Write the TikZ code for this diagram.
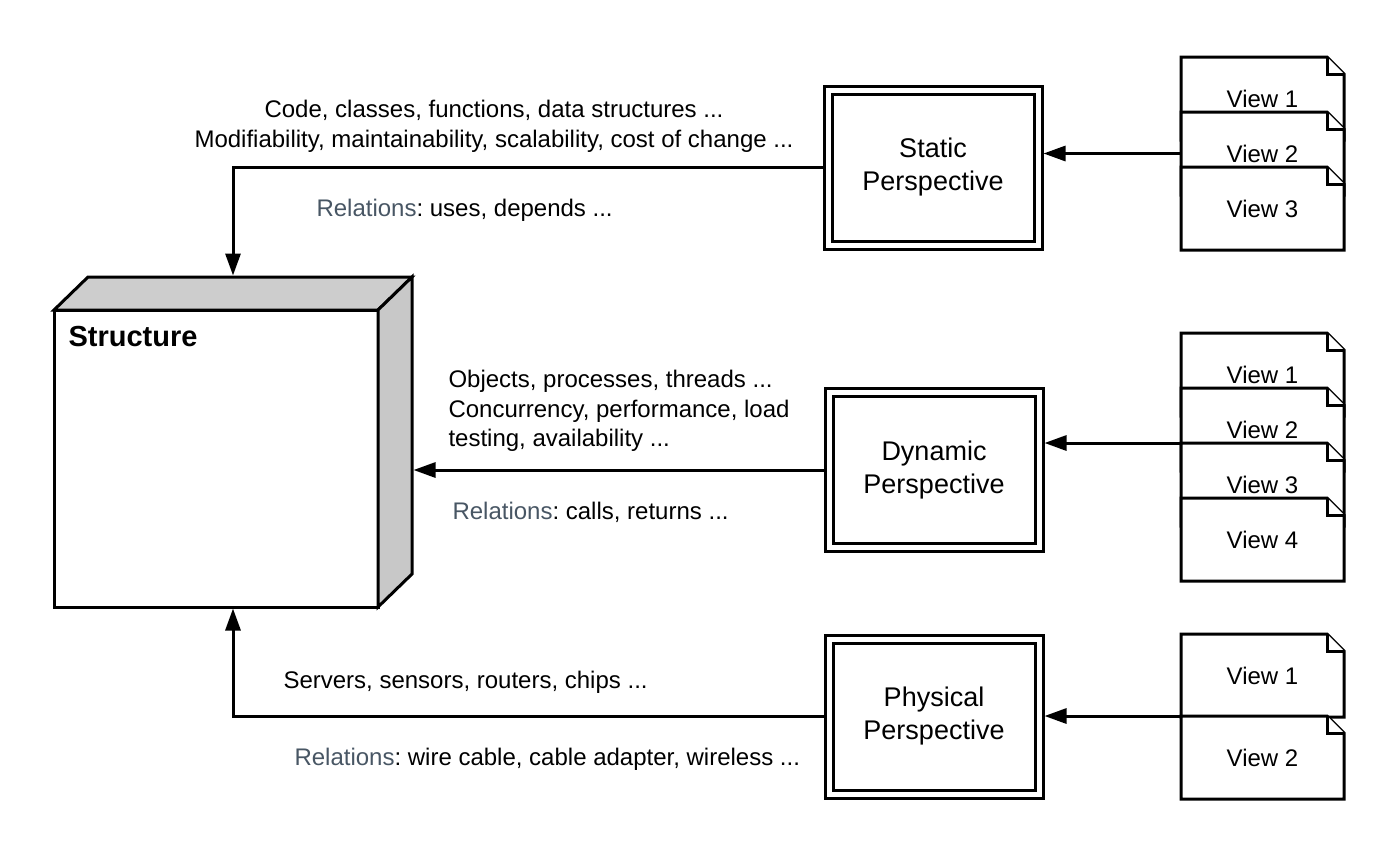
\documentclass[tikz,border=0pt]{standalone}
\usepackage{fontspec}
\setmainfont{Liberation Sans}
\usetikzlibrary{arrows.meta,fit}
\definecolor{relcol}{RGB}{72,86,100}
\definecolor{topgray}{RGB}{205,205,205}
\definecolor{sidegray}{RGB}{200,200,200}
\frenchspacing
\newcommand\myview[4]{%
  \filldraw[viewline] (#2,#3+83) -- (#2,#3) -- (#2+146,#3) -- (#2+163,#3+17) -- (#2+163,#3+83) -- cycle;
  \draw[viewline] (#2+146,#3) -- (#2+146,#3+17) -- (#2+163,#3+17);
  \node[viewtext, anchor=north west] (#1) at (#2,#3) {#4};
}
\begin{document}
\begin{tikzpicture}[x=1pt,y=-1pt,line width=3pt,
  viewline/.style={draw=black, fill=white, line width=3pt},
  viewtext/.style={minimum width=163pt, minimum height=83pt, inner sep=0pt, outer sep=0pt,
     font=\fontsize{24}{29}\selectfont},
  persp/.style={draw=black, line width=3pt, double=white, double distance=5pt,
     minimum width=210pt, minimum height=155pt, inner sep=0pt, outer sep=5.5pt,
     align=center, font=\fontsize{27}{33}\selectfont},
  lbl/.style={inner sep=0pt, font=\fontsize{24}{30}\selectfont},
  conn/.style={draw=black, line width=3pt, -{Triangle[length=22pt,width=15pt]}}]
\useasboundingbox (0,0) rectangle (1400,855);

% Structure (3D box)
\node[inner sep=0pt, outer sep=1.5pt, minimum width=358pt, minimum height=330pt] (struct) at (233,442) {};
\filldraw[fill=white] (54,310) rectangle (378,607);
\filldraw[fill=topgray] (54,310) -- (88,277) -- (412,277) -- (378,310) -- cycle;
\filldraw[fill=sidegray] (378,310) -- (412,277) -- (412,574) -- (378,607) -- cycle;
\node[lbl, anchor=base west, font=\bfseries\fontsize{29}{34}\selectfont] (structlbl) at (67,346) {Structure};

% Perspectives
\node[persp] (static) at (933,167.5) {Static\\Perspective};
\node[persp] (dynamic) at (934,470) {Dynamic\\Perspective};
\node[persp] (physical) at (934,716.5) {Physical\\Perspective};

% Views
\myview{sv1}{1181}{57}{View 1}
\myview{sv2}{1181}{112}{View 2}
\myview{sv3}{1181}{167}{View 3}
\node[fit=(sv1)(sv3), inner sep=0pt, outer sep=0pt] (sv) {};

\myview{dv1}{1181}{333}{View 1}
\myview{dv2}{1181}{388}{View 2}
\myview{dv3}{1181}{443}{View 3}
\myview{dv4}{1181}{498}{View 4}

\myview{pv1}{1181}{634}{View 1}
\myview{pv2}{1181}{716}{View 2}

% Connectors
\draw[conn] (static.west) -| (struct.north);
\draw[conn] (dynamic.west) -- (struct.east |- dynamic.west);
\draw[conn] (physical.west) -| (struct.south);
\draw[conn] (sv.west) -- (static.east |- sv.west);
\draw[conn] (dv3.north west) -- (dynamic.east |- dv3.north west);
\draw[conn] (pv2.north west) -- (physical.east |- pv2.north west);

% Labels
\node[lbl, anchor=base] (s1) at (494,117) {Code, classes, functions, data structures ...};
\node[lbl, anchor=base] (s2) at (494,147) {Modifiability, maintainability, scalability, cost of change ...};
\node[lbl, anchor=base west] (s3) at (315,216) {\textcolor{relcol}{Relations}: uses, depends ...};

\node[lbl, anchor=base west] (d1) at (447,387) {Objects, processes, threads ...};
\node[lbl, anchor=base west] (d2) at (447,417) {Concurrency, performance, load};
\node[lbl, anchor=base west] (d3) at (447,446) {testing, availability ...};
\node[lbl, anchor=base west] (d4) at (451,519) {\textcolor{relcol}{Relations}: calls, returns ...};

\node[lbl, anchor=base west] (p1) at (282,688) {Servers, sensors, routers, chips ...};
\node[lbl, anchor=base west] (p2) at (293,765) {\textcolor{relcol}{Relations}: wire cable, cable adapter, wireless ...};
\end{tikzpicture}
\end{document}
